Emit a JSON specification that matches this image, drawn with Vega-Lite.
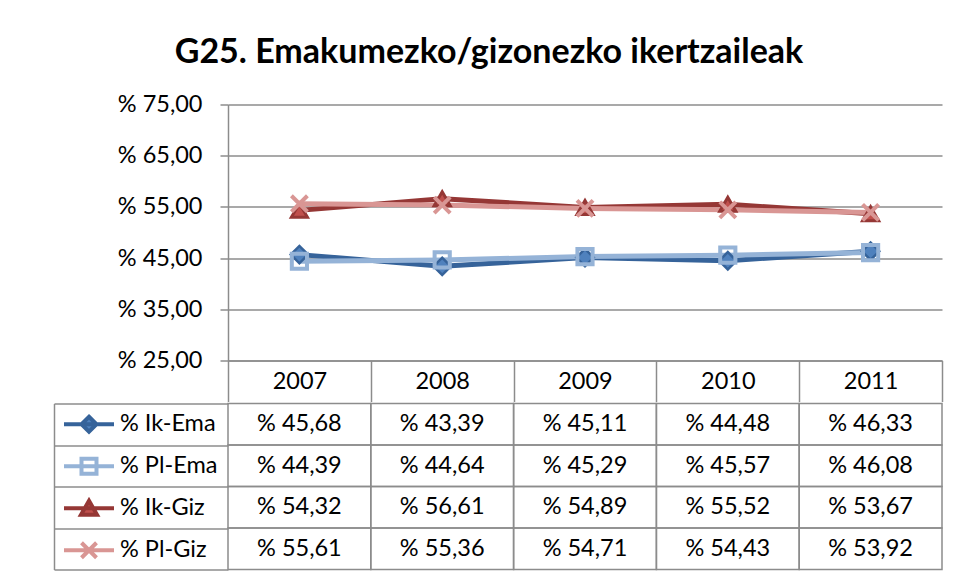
{
  "$schema": "https://vega.github.io/schema/vega-lite/v6.json",
  "padding": {"left": 53, "top": 35.5, "right": 5, "bottom": 5},
  "title": {"text": "G25. Emakumezko/gizonezko ikertzaileak", "font": "Lato", "fontSize": 34, "fontWeight": "bold", "anchor": "middle", "color": "black", "offset": 22.5, "dx": -9},
  "datasets": {
    "d": [
      {"year": "2007", "series": "% Ik-Ema", "value": 45.68},
      {"year": "2008", "series": "% Ik-Ema", "value": 43.39},
      {"year": "2009", "series": "% Ik-Ema", "value": 45.11},
      {"year": "2010", "series": "% Ik-Ema", "value": 44.48},
      {"year": "2011", "series": "% Ik-Ema", "value": 46.33},
      {"year": "2007", "series": "% Pl-Ema", "value": 44.39},
      {"year": "2008", "series": "% Pl-Ema", "value": 44.64},
      {"year": "2009", "series": "% Pl-Ema", "value": 45.29},
      {"year": "2010", "series": "% Pl-Ema", "value": 45.57},
      {"year": "2011", "series": "% Pl-Ema", "value": 46.08},
      {"year": "2007", "series": "% Ik-Giz", "value": 54.32},
      {"year": "2008", "series": "% Ik-Giz", "value": 56.61},
      {"year": "2009", "series": "% Ik-Giz", "value": 54.89},
      {"year": "2010", "series": "% Ik-Giz", "value": 55.52},
      {"year": "2011", "series": "% Ik-Giz", "value": 53.67},
      {"year": "2007", "series": "% Pl-Giz", "value": 55.61},
      {"year": "2008", "series": "% Pl-Giz", "value": 55.36},
      {"year": "2009", "series": "% Pl-Giz", "value": 54.71},
      {"year": "2010", "series": "% Pl-Giz", "value": 54.43},
      {"year": "2011", "series": "% Pl-Giz", "value": 53.92}
    ]
  },
  "data": {"name": "d"},
  "spacing": 0,
  "resolve": {
    "scale": {"color": "independent", "shape": "independent", "fill": "independent", "stroke": "independent", "opacity": "independent"},
    "legend": {"color": "independent", "shape": "independent", "fill": "independent", "stroke": "independent", "opacity": "independent"}
  },
  "vconcat": [
    {
      "width": 714,
      "height": 256,
      "encoding": {
        "x": {"field": "year", "type": "ordinal", "scale": {"type": "band", "paddingInner": 0, "paddingOuter": 0},
          "axis": {"title": null, "orient": "bottom", "tickBand": "extent", "tickSize": 41, "tickColor": "#8c8c8c", "tickWidth": 1.5, "domainColor": "#8c8c8c", "domainWidth": 1.5, "labelAngle": 0, "labelBaseline": "middle", "labelPadding": -20.5, "labelFontSize": 23.5, "labelColor": "black", "labelFont": "Lato"}},
        "y": {"field": "value", "type": "quantitative", "scale": {"domain": [25, 75], "nice": false, "zero": false},
          "axis": {"title": null, "values": [25, 35, 45, 55, 65, 75], "format": "$.2f", "grid": true, "gridColor": "#8c8c8c", "gridWidth": 1.5, "tickSize": 8, "tickColor": "#8c8c8c", "tickWidth": 1.5, "domainColor": "#8c8c8c", "domainWidth": 1.5, "labelPadding": 18, "labelFontSize": 23.5, "labelColor": "black", "labelFont": "Lato"}}
      },
      "layer": [
        {"mark": {"type": "line", "strokeWidth": 5, "strokeJoin": "round"},
          "encoding": {"color": {"field": "series", "type": "nominal", "scale": {"domain": ["% Ik-Ema", "% Pl-Ema", "% Ik-Giz", "% Pl-Giz"], "range": ["#36639a", "#95b3d7", "#953735", "#d99694"]}, "legend": null}}},
        {"transform": [{"filter": "datum.series === '% Ik-Ema'"}],
          "mark": {"type": "point", "shape": "diamond", "size": 300, "filled": true, "fill": "#4f81bd", "stroke": "#36639a", "strokeWidth": 2.5, "opacity": 1}},
        {"transform": [{"filter": "datum.series === '% Pl-Ema'"}],
          "mark": {"type": "point", "shape": "square", "size": 230, "filled": false, "fill": "transparent", "stroke": "#95b3d7", "strokeWidth": 4, "opacity": 1}},
        {"transform": [{"filter": "datum.series === '% Ik-Giz'"}],
          "mark": {"type": "point", "shape": "triangle-up", "size": 260, "filled": true, "fill": "#c0504d", "stroke": "#953735", "strokeWidth": 3, "opacity": 1}},
        {"transform": [{"filter": "datum.series === '% Pl-Giz'"}],
          "mark": {"type": "point", "shape": "M-0.8,-0.8L0.8,0.8M-0.8,0.8L0.8,-0.8", "size": 400, "filled": false, "fill": "transparent", "stroke": "#d99694", "strokeWidth": 4, "opacity": 1}}
      ]
    },
    {
      "width": 714,
      "height": 166,
      "encoding": {
        "y": {"field": "series", "type": "nominal", "sort": ["% Ik-Ema", "% Pl-Ema", "% Ik-Giz", "% Pl-Giz"],
          "scale": {"type": "band", "paddingInner": 0, "paddingOuter": 0},
          "axis": {"title": null, "orient": "left", "offset": 174, "labels": false, "tickBand": "extent", "tickSize": -174, "tickColor": "#8c8c8c", "tickWidth": 1.5, "domainColor": "#8c8c8c", "domainWidth": 1.5}}
      },
      "layer": [
        {"mark": {"type": "rect", "filled": false, "color": "#8c8c8c", "strokeWidth": 1.5},
          "encoding": {"x": {"field": "year", "type": "ordinal", "scale": {"type": "band", "paddingInner": 0, "paddingOuter": 0}, "axis": null}}},
        {"mark": {"type": "text", "fontSize": 23.5, "font": "Lato", "color": "black", "align": "center", "baseline": "middle"},
          "encoding": {"x": {"field": "year", "type": "ordinal", "axis": null}, "text": {"field": "value", "type": "quantitative", "format": "$.2f"}}},
        {"mark": {"type": "point", "filled": true},
          "encoding": {
            "shape": {"field": "series", "type": "nominal",
              "scale": {"domain": ["% Ik-Ema", "% Pl-Ema", "% Ik-Giz", "% Pl-Giz"], "range": ["M-1,0H1M0,-0.3L0.3,0L0,0.3L-0.3,0Z", "M-1,0H1M-0.3,-0.3H0.3V0.3H-0.3Z", "M-1,0H1M0,-0.3L0.32,0.26H-0.32Z", "M-1,0H1M-0.3,-0.3L0.3,0.3M-0.3,0.3L0.3,-0.3"]},
              "legend": {"orient": "none", "legendX": -174, "legendY": 0, "title": null, "padding": 0, "rowPadding": 0, "clipHeight": 41.5, "symbolSize": 2500, "symbolStrokeWidth": 4, "symbolOpacity": 1, "symbolOffset": 8, "labelOffset": 4, "labelFontSize": 23.5, "labelFont": "Lato", "labelColor": "black", "labelLimit": 300}},
            "fill": {"field": "series", "type": "nominal",
              "scale": {"domain": ["% Ik-Ema", "% Pl-Ema", "% Ik-Giz", "% Pl-Giz"], "range": ["#4f81bd", "white", "#c0504d", "transparent"]},
              "legend": {"orient": "none", "legendX": -174, "legendY": 0, "title": null, "padding": 0, "rowPadding": 0, "clipHeight": 41.5, "symbolSize": 2500, "symbolStrokeWidth": 4, "symbolOpacity": 1, "symbolOffset": 8, "labelOffset": 4, "labelFontSize": 23.5, "labelFont": "Lato", "labelColor": "black", "labelLimit": 300}},
            "stroke": {"field": "series", "type": "nominal",
              "scale": {"domain": ["% Ik-Ema", "% Pl-Ema", "% Ik-Giz", "% Pl-Giz"], "range": ["#36639a", "#95b3d7", "#953735", "#d99694"]},
              "legend": {"orient": "none", "legendX": -174, "legendY": 0, "title": null, "padding": 0, "rowPadding": 0, "clipHeight": 41.5, "symbolSize": 2500, "symbolStrokeWidth": 4, "symbolOpacity": 1, "symbolOffset": 8, "labelOffset": 4, "labelFontSize": 23.5, "labelFont": "Lato", "labelColor": "black", "labelLimit": 300}},
            "opacity": {"field": "value", "type": "quantitative", "scale": {"domain": [0, 100], "range": [0, 0]}, "legend": null}
          }}
      ]
    }
  ],
  "config": {
    "font": "Lato",
    "view": {"stroke": null},
    "locale": {"number": {"decimal": ",", "thousands": ".", "grouping": [3], "currency": ["% ", ""]}}
  }
}
